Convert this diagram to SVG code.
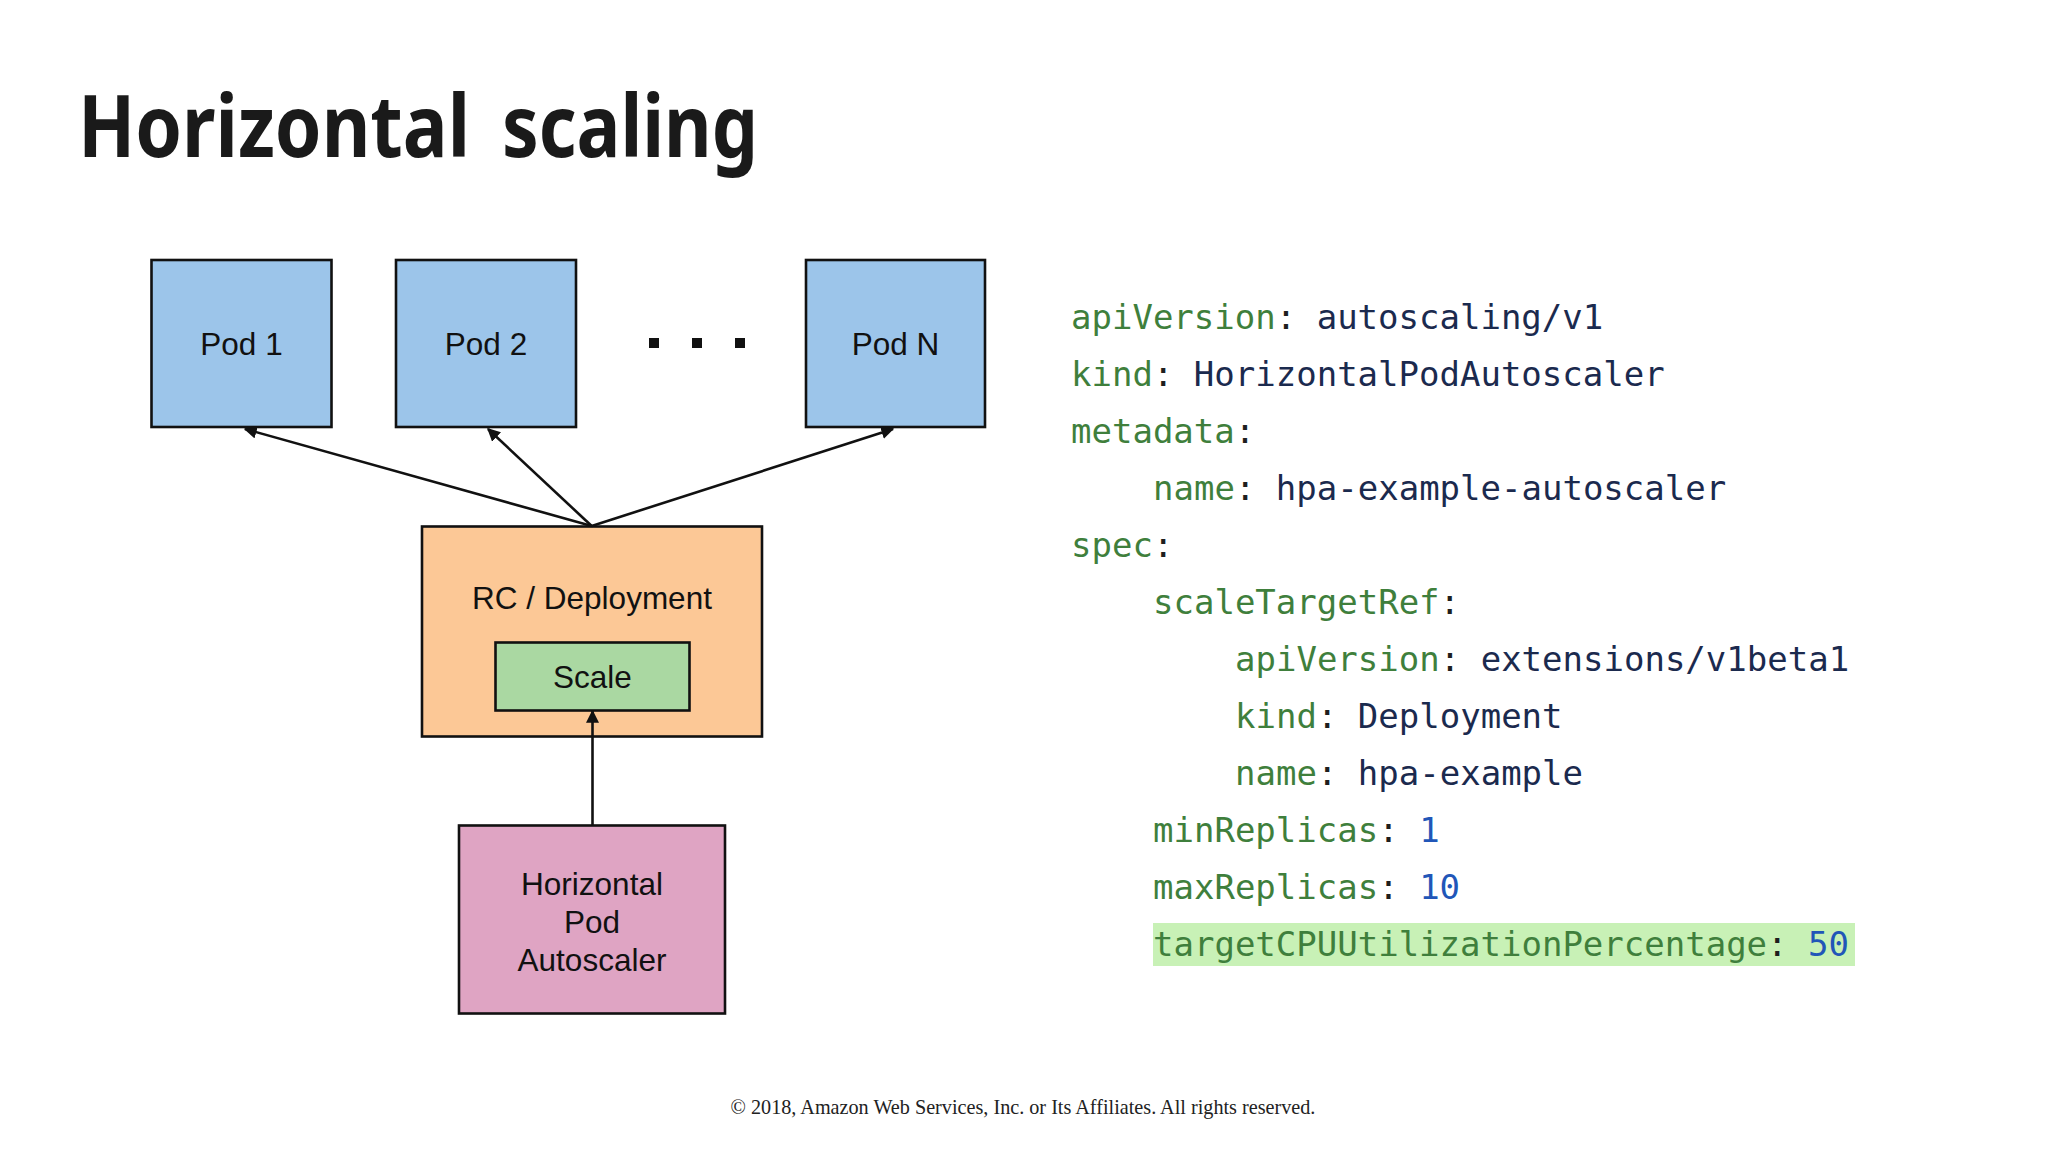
<svg xmlns="http://www.w3.org/2000/svg" width="2048" height="1152" viewBox="0 0 2048 1152">
  <style>
    .box { stroke: #111; stroke-width: 2.6; }
    .pod { fill: #9cc5ea; }
    .lbl { font-family: "Liberation Sans", Arial, sans-serif; font-size: 31.5px; fill: #111; text-anchor: middle; }
    .title { font-family: "Noto Sans", "Noto Sans CJK KR", sans-serif; font-weight: bold; font-size: 86px; fill: #1a1a1a; }
    .code { font-family: "DejaVu Sans Mono", "Liberation Mono", monospace; font-size: 34px; white-space: pre; }
    .k { fill: #3f7f3c; }
    .v { fill: #1b2a4e; }
    .n { fill: #2156b8; }
    .c { fill: #1e1e1e; }
    .conn { stroke: #111; stroke-width: 2.6; fill: none; marker-end: url(#arrow); }
  </style>
  <defs>
    <marker id="arrow" viewBox="0 0 10 10" refX="9" refY="5" markerWidth="5" markerHeight="5" orient="auto" markerUnits="strokeWidth">
      <path d="M0,0 L10,5 L0,10 z" fill="#111"/>
    </marker>
  </defs>
  <rect width="2048" height="1152" fill="#ffffff"/>

  <g id="title">
    <text class="title" x="78" y="157" textLength="392" lengthAdjust="spacingAndGlyphs">Horizontal</text>
    <text class="title" x="502" y="157" textLength="256" lengthAdjust="spacingAndGlyphs">scaling</text>
  </g>

  <g id="pod1">
    <rect class="box pod" x="151.5" y="260" width="180" height="167"/>
    <text class="lbl" x="241.5" y="355">Pod 1</text>
  </g>
  <g id="pod2">
    <rect class="box pod" x="396" y="260" width="180" height="167"/>
    <text class="lbl" x="486" y="355">Pod 2</text>
  </g>
  <g id="ellipsis">
    <rect x="649" y="338" width="10" height="10" fill="#111"/>
    <rect x="692" y="338" width="10" height="10" fill="#111"/>
    <rect x="735" y="338" width="10" height="10" fill="#111"/>
  </g>
  <g id="podN">
    <rect class="box pod" x="806" y="260" width="179" height="167"/>
    <text class="lbl" x="895.5" y="355">Pod N</text>
  </g>
  <g id="rc-deployment">
    <rect class="box" x="422" y="526.5" width="340" height="210" fill="#fcc896"/>
    <text class="lbl" x="592" y="608.5">RC / Deployment</text>
  </g>
  <g id="scale">
    <rect class="box" x="495.5" y="642.5" width="194" height="68" fill="#aad8a2"/>
    <text class="lbl" x="592.5" y="688">Scale</text>
  </g>
  <g id="hpa">
    <rect class="box" x="459" y="825.5" width="266" height="188" fill="#dfa4c3"/>
    <text class="lbl" x="592" y="894.5">Horizontal</text>
    <text class="lbl" x="592" y="932.5">Pod</text>
    <text class="lbl" x="592" y="970.5">Autoscaler</text>
  </g>

  <g id="connectors">
    <line class="conn" x1="591.7" y1="526" x2="245" y2="429"/>
    <line class="conn" x1="591.7" y1="526" x2="488" y2="429"/>
    <line class="conn" x1="591.7" y1="526" x2="893" y2="429"/>
    <line class="conn" x1="592.5" y1="825" x2="592.5" y2="711"/>
  </g>

  <g id="yaml">
    <rect x="1153" y="923" width="702" height="43" fill="#c8f1b6"/>
    <text class="code" x="1071" y="329"><tspan class="k">apiVersion</tspan><tspan class="c">: </tspan><tspan class="v">autoscaling/v1</tspan></text>
    <text class="code" x="1071" y="386"><tspan class="k">kind</tspan><tspan class="c">: </tspan><tspan class="v">HorizontalPodAutoscaler</tspan></text>
    <text class="code" x="1071" y="443"><tspan class="k">metadata</tspan><tspan class="c">:</tspan></text>
    <text class="code" x="1153" y="500"><tspan class="k">name</tspan><tspan class="c">: </tspan><tspan class="v">hpa-example-autoscaler</tspan></text>
    <text class="code" x="1071" y="557"><tspan class="k">spec</tspan><tspan class="c">:</tspan></text>
    <text class="code" x="1153" y="614"><tspan class="k">scaleTargetRef</tspan><tspan class="c">:</tspan></text>
    <text class="code" x="1235" y="671"><tspan class="k">apiVersion</tspan><tspan class="c">: </tspan><tspan class="v">extensions/v1beta1</tspan></text>
    <text class="code" x="1235" y="728"><tspan class="k">kind</tspan><tspan class="c">: </tspan><tspan class="v">Deployment</tspan></text>
    <text class="code" x="1235" y="785"><tspan class="k">name</tspan><tspan class="c">: </tspan><tspan class="v">hpa-example</tspan></text>
    <text class="code" x="1153" y="842"><tspan class="k">minReplicas</tspan><tspan class="c">: </tspan><tspan class="n">1</tspan></text>
    <text class="code" x="1153" y="899"><tspan class="k">maxReplicas</tspan><tspan class="c">: </tspan><tspan class="n">10</tspan></text>
    <text class="code" x="1153" y="956"><tspan class="k">targetCPUUtilizationPercentage</tspan><tspan class="c">: </tspan><tspan class="n">50</tspan></text>
  </g>

  <text x="1023" y="1114" font-family="'Liberation Serif', 'Times New Roman', serif" font-size="20.2" fill="#222" text-anchor="middle">© 2018, Amazon Web Services, Inc. or Its Affiliates. All rights reserved.</text>
</svg>
